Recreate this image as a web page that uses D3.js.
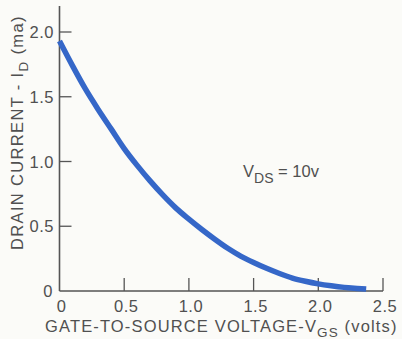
<!DOCTYPE html>
<html><head><meta charset="utf-8">
<script src="https://cdn.jsdelivr.net/npm/d3@7"></script>
<style>
html,body{margin:0;padding:0;background:#fbfbf8;}
svg{display:block;}
text{font-family:"Liberation Sans","DejaVu Sans",sans-serif;fill:#505050;}
</style></head>
<body><svg id="c" width="402" height="339"></svg>
<script>
const vgs = [0, 0.1, 0.2, 0.3, 0.4, 0.5, 0.6, 0.7, 0.8, 0.9, 1.0, 1.1, 1.2, 1.3, 1.4, 1.5, 1.6, 1.7, 1.8, 1.9, 2.0, 2.1, 2.2, 2.3, 2.37];
const idrain = [1.93, 1.74, 1.56, 1.40, 1.25, 1.10, 0.97, 0.85, 0.74, 0.64, 0.555, 0.475, 0.40, 0.33, 0.27, 0.22, 0.175, 0.135, 0.10, 0.075, 0.055, 0.04, 0.028, 0.02, 0.015];
const xTicks = [0, 0.5, 1.0, 1.5, 2.0, 2.5];
const xTickLabels = ["0", "0.5", "1.0", "1.5", "2.0", "2.5"];
const yTicks = [0, 0.5, 1.0, 1.5, 2.0];
const yTickLabels = ["0", "0.5", "1.0", "1.5", "2.0"];

const svg = d3.select("#c");
const x = d3.scaleLinear().domain([0, 2.5]).range([59.5, 383]);
const y = d3.scaleLinear().domain([0, 2.0]).range([291, 32]);
const axisColor = "#555";

// axes lines
svg.append("line").attr("x1", x(0)).attr("x2", x(0)).attr("y1", y(2.2)).attr("y2", y(0))
  .attr("stroke", axisColor).attr("stroke-width", 1.6);
svg.append("line").attr("x1", x(0)).attr("x2", x(2.5)).attr("y1", y(0)).attr("y2", y(0))
  .attr("stroke", axisColor).attr("stroke-width", 1.6);

// x ticks (inward)
const xa = svg.append("g");
xTicks.forEach((t, i) => {
  if (t > 0) xa.append("line").attr("x1", x(t)).attr("x2", x(t)).attr("y1", y(0)).attr("y2", y(0) - 13)
    .attr("stroke", axisColor).attr("stroke-width", 1.3);
  xa.append("text").attr("x", x(t) + 2).attr("y", 312).attr("text-anchor", "middle")
    .attr("font-size", 16.5).attr("letter-spacing", 0.5).text(xTickLabels[i]);
});
// y ticks (inward)
const ya = svg.append("g");
yTicks.forEach((t, i) => {
  if (t > 0) ya.append("line").attr("x1", x(0)).attr("x2", x(0) + 12).attr("y1", y(t)).attr("y2", y(t))
    .attr("stroke", axisColor).attr("stroke-width", 1.3);
  ya.append("text").attr("x", t === 0 ? 53 : 54).attr("y", y(t) + 6).attr("text-anchor", "end")
    .attr("font-size", 16.5).attr("letter-spacing", 0.5).text(yTickLabels[i]);
});

// curve
const line = d3.line().x((d, i) => x(vgs[i])).y(d => y(d)).curve(d3.curveMonotoneX);
svg.append("path").datum(idrain).attr("d", line).attr("fill", "none")
  .attr("stroke", "#3567c8").attr("stroke-width", 5.5).attr("stroke-linecap", "butt");

// annotation
const ann = svg.append("text").attr("x", 243).attr("y", 177).attr("font-size", 16.5);
ann.append("tspan").text("V");
ann.append("tspan").attr("dy", 6).attr("font-size", 14).text("DS");
ann.append("tspan").attr("dy", -6).text(" = 10v");

// x axis title
const xt = svg.append("text").attr("x", 45).attr("y", 332).attr("font-size", 16.5).attr("letter-spacing", 1.15);
xt.append("tspan").text("GATE-TO-SOURCE VOLTAGE-V");
xt.append("tspan").attr("dy", 5).attr("font-size", 13.5).text("GS");
xt.append("tspan").attr("dy", -5).text(" (volts)");

// y axis title
const yt = svg.append("text").attr("transform", "translate(23,250) rotate(-90)").attr("font-size", 16.5).attr("letter-spacing", 1.35);
yt.append("tspan").text("DRAIN CURRENT - I");
yt.append("tspan").attr("dy", 5).attr("font-size", 13.5).text("D");
yt.append("tspan").attr("dy", -5).text(" (ma)");
</script></body></html>
